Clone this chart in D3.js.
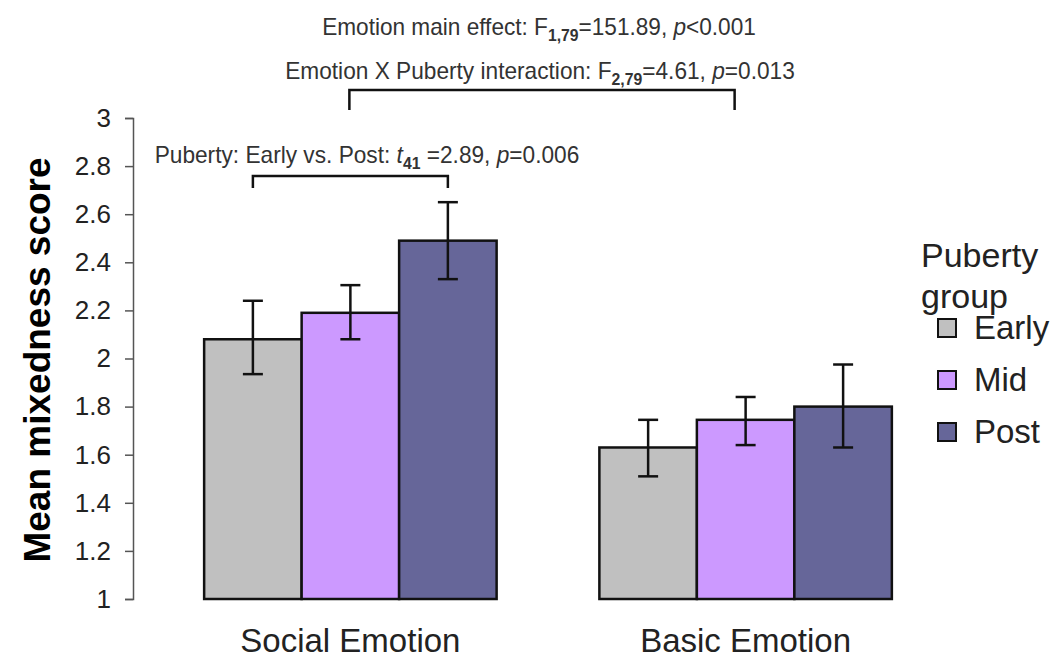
<!DOCTYPE html>
<html>
<head>
<meta charset="utf-8">
<script src="https://cdn.jsdelivr.net/npm/d3@7"></script>
<style>
  body { margin: 0; background: #fff; }
  svg { display: block; }
</style>
</head>
<body>
<svg id="chart" width="1053" height="659"></svg>
<script>
const emotions = ['Social Emotion', 'Basic Emotion'];
const groups = ['Early', 'Mid', 'Post'];
const means = [
  [2.08, 2.19, 2.49],
  [1.63, 1.745, 1.80]
];
const errLow = [
  [1.935, 2.08, 2.33],
  [1.51, 1.64, 1.63]
];
const errHigh = [
  [2.24, 2.305, 2.65],
  [1.745, 1.84, 1.975]
];
const yTicks = [1, 1.2, 1.4, 1.6, 1.8, 2, 2.2, 2.4, 2.6, 2.8, 3];
const colors = ['#c0c0c0', '#cc99ff', '#666699'];

const svg = d3.select('#chart');
const sans = 'Liberation Sans, Arial, sans-serif';

const y = d3.scaleLinear().domain([1, 3]).range([599, 118]);
const x0 = d3.scaleBand().domain(emotions).range([133, 963]).paddingInner(0.26).paddingOuter(0.18);
const x1 = d3.scaleBand().domain(groups).range([0, x0.bandwidth()]);

// y axis
const yAxis = svg.append('g')
  .attr('transform', 'translate(133,0)')
  .call(d3.axisLeft(y).tickValues(yTicks).tickSize(8).tickPadding(14).tickFormat(d => +d.toFixed(1)));
yAxis.selectAll('path, line').attr('stroke', '#555').attr('stroke-width', 1.5);
yAxis.selectAll('text').attr('font-family', sans).attr('font-size', 26).attr('fill', '#222');

svg.append('text')
  .attr('transform', 'translate(50,360) rotate(-90)')
  .attr('text-anchor', 'middle')
  .attr('font-family', sans).attr('font-weight', 'bold').attr('font-size', 37)
  .text('Mean mixedness score');

// bars
const rows = [];
emotions.forEach((e, i) => groups.forEach((g, j) => rows.push({
  e, g, j, v: means[i][j], lo: errLow[i][j], hi: errHigh[i][j]
})));

const bars = svg.append('g').selectAll('g').data(rows).enter().append('g')
  .attr('transform', d => `translate(${x0(d.e) + x1(d.g)},0)`);

bars.append('rect')
  .attr('x', 0)
  .attr('y', d => y(d.v))
  .attr('width', x1.bandwidth())
  .attr('height', d => y(1) - y(d.v))
  .attr('fill', d => colors[d.j])
  .attr('stroke', '#111').attr('stroke-width', 2.5);

const cx = x1.bandwidth() / 2;
bars.append('line')
  .attr('x1', cx).attr('x2', cx)
  .attr('y1', d => y(d.lo)).attr('y2', d => y(d.hi))
  .attr('stroke', '#111').attr('stroke-width', 2.5);
bars.selectAll('line.cap').data(d => [d.lo, d.hi]).enter().append('line')
  .attr('class', 'cap')
  .attr('x1', cx - 10).attr('x2', cx + 10)
  .attr('y1', d => y(d)).attr('y2', d => y(d))
  .attr('stroke', '#111').attr('stroke-width', 2.5);

// category labels
svg.append('g').selectAll('text').data(emotions).enter().append('text')
  .attr('x', d => x0(d) + x0.bandwidth() / 2)
  .attr('y', 652)
  .attr('text-anchor', 'middle')
  .attr('font-family', sans).attr('font-size', 33).attr('fill', '#222')
  .text(d => d);

// legend
const lg = svg.append('g').attr('transform', 'translate(921,0)');
lg.append('text').attr('x', 0).attr('y', 267).attr('font-family', sans).attr('font-size', 34).attr('fill', '#222').text('Puberty');
lg.append('text').attr('x', 0).attr('y', 308).attr('font-family', sans).attr('font-size', 34).attr('fill', '#222').text('group');
const legY = d3.scalePoint().domain(groups).range([327, 431]);
const li = lg.selectAll('g.item').data(groups).enter().append('g').attr('class', 'item')
  .attr('transform', d => `translate(0,${legY(d)})`);
li.append('rect').attr('x', 17).attr('y', -8).attr('width', 18).attr('height', 18)
  .attr('fill', (d, i) => colors[i]).attr('stroke', '#111').attr('stroke-width', 2);
li.append('text').attr('x', 53).attr('y', 12).attr('font-family', sans).attr('font-size', 33).attr('fill', '#222').text(d => d);

// annotations (condensed look: squeeze horizontally to the measured width)
function stat(xc, yb, width, parts) {
  const g = svg.append('g');
  const t = g.append('text').attr('x', 0).attr('y', 0).attr('text-anchor', 'middle')
    .attr('font-family', sans).attr('font-size', 23).attr('fill', '#333');
  parts.forEach(p => {
    const s = t.append('tspan').text(p.t);
    if (p.i) s.attr('font-style', 'italic');
    if (p.sub) s.attr('font-size', 16).attr('font-weight', 'bold').attr('dy', 6);
    if (p.up) s.attr('dy', -6);
  });
  const w = t.node().getBBox().width;
  g.attr('transform', `translate(${xc},${yb}) scale(${width / w},1)`);
}
stat(539, 35, 434, [
  { t: 'Emotion main effect: F' }, { t: '1,79', sub: true }, { t: '=151.89, ', up: true }, { t: 'p', i: true }, { t: '<0.001' }
]);
stat(540, 79, 510, [
  { t: 'Emotion X Puberty interaction: F' }, { t: '2,79', sub: true }, { t: '=4.61, ', up: true }, { t: 'p', i: true }, { t: '=0.013' }
]);
stat(367, 163, 425, [
  { t: 'Puberty: Early vs. Post: ' }, { t: 't', i: true }, { t: '41', sub: true }, { t: ' =2.89, ', up: true }, { t: 'p', i: true }, { t: '=0.006' }
]);

function bracket(xa, xb, yt, yb) {
  svg.append('path')
    .attr('d', `M${xa},${yb}V${yt}H${xb}V${yb}`)
    .attr('fill', 'none').attr('stroke', '#111').attr('stroke-width', 2.5);
}
bracket(x0('Social Emotion') + x0.bandwidth() / 2 - 1, x0('Basic Emotion') + x0.bandwidth() / 2 - 11, 90, 110);
bracket(x0('Social Emotion') + x1('Early') + cx, x0('Social Emotion') + x1('Post') + cx, 176, 188);
</script>
</body>
</html>
